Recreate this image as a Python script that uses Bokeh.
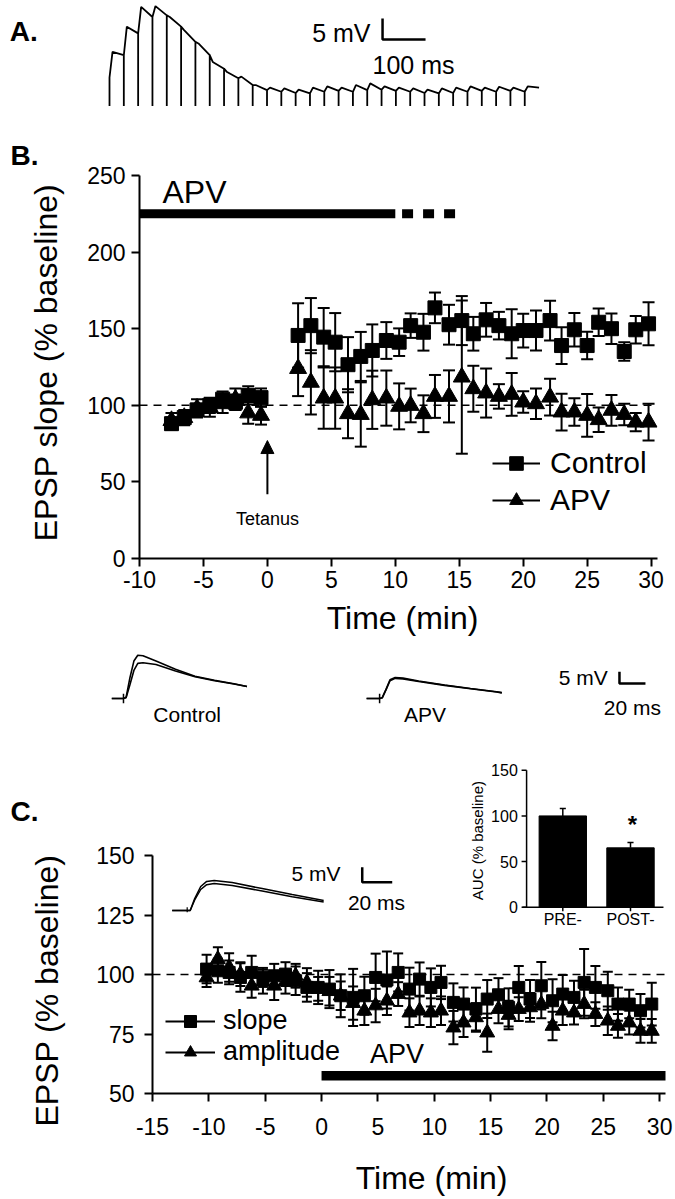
import math
from bokeh.plotting import figure
from bokeh.models import (ColumnDataSource, Whisker, TeeHead, Legend, LegendItem,
                          Range1d, Span, FixedTicker, Arrow, NormalHead)
from bokeh.layouts import column, row
from bokeh.embed import file_html
from bokeh.resources import INLINE
from bokeh.core.properties import value

FONT = "Liberation Sans"
PAGE_W = 675
NAN = float("nan")

# ---------------- Panel A: tetanus response ----------------
a_peak_mV = [6.1, 12.1, 16.8, 17.0, 14.4, 11.3, 8.1, 3.7, 1.3, 0.2,
             -1.8, -2.4, -2.6, -2.9, -2.4, -2.1, -2.4, -1.8, -1.4, -2.1,
             -2.4, -2.6, -2.9, -2.6, -2.4, -2.1, -2.4, -2.2, -2.4, -2.1]
a_trough_mV = [5.3, 10.5, 14.4, 14.8, 12.1, 8.5, 5.3, 2.1, -0.2, -1.8,
               -3.0, -3.4, -3.7, -3.8, -3.4, -3.2, -3.4, -3.0, -2.9, -3.2,
               -3.4, -3.7, -3.8, -3.7, -3.4, -3.2, -3.4, -3.2, -3.4, -2.4]
a_isi_ms = 33.3
a_rise_ms = 7
a_artifact_mV = -6.8

# ---------------- Panel B: EPSP slope ----------------
b_time = [-7.5, -6.5, -5.5, -4.5, -3.5, -2.5, -1.5, -0.5,
          2.4, 3.4, 4.4, 5.3, 6.3, 7.3, 8.2, 9.3, 10.3, 11.2,
          12.2, 13.1, 14.2, 15.2, 16.1, 17.1, 18.1, 19.1, 20.0, 21.0,
          22.1, 23.0, 24.0, 25.0, 25.9, 26.9, 27.9, 28.8, 29.8]
b_control = [88, 92, 97, 100, 104, 102, 106.5, 105,
             145.6, 152, 144.5, 141.2, 126.5, 131.9, 135.8, 142.3, 141.2, 152,
             147.7, 163.6, 152.6, 155.3, 146.7, 155.8, 152, 146.7, 148.8, 148.8,
             155.3, 139, 149.3, 139, 154.2, 150, 135.1, 149.3, 153.2]
b_control_sem = [4, 4, 4, 5, 5, 5, 6, 6,
                 21, 18, 19, 19, 18, 16, 17, 12, 9, 8,
                 12, 10, 13, 16, 11, 11, 9, 16, 11, 13,
                 13, 12, 11, 9, 9, 10, 6, 9, 14]
b_apv = [90, 92, 98, 98.6, 101, 104, 95, 93.4,
         124, 115, 104.7, 104.7, 94.5, 94, 103.6, 104.7, 99.3, 99.9,
         94.5, 105.8, 105.8, 118.4, 110.8, 108, 105.8, 107.1, 102.1, 101,
         105.3, 95.6, 95.6, 93.4, 90.6, 96.7, 94, 89, 89]
b_apv_sem = [5, 5, 6, 6, 6, 7, 7, 6,
             18, 21, 20, 20, 16, 21, 19, 18, 15, 11,
             12, 14, 17, 50, 15, 16, 8, 14, 7, 10,
             12, 12, 9, 14, 8, 10, 7, 6, 12]
b_xticks = [-10, -5, 0, 5, 10, 15, 20, 25, 30]
b_yticks = [0, 50, 100, 150, 200, 250]
b_apv_bar = [-10, 10]
b_apv_washout = [10.53, 14.7]
b_apv_bar_level = 225
b_tetanus_time = 0
b_baseline = 100

# ---------------- Sample EPSP traces under B ----------------
tr_ctl_t = [-9, 0, 2, 5, 8, 11, 15, 25, 40, 55, 70, 85, 95]
tr_ctl_pre = [0, 0, 0.3, 6, 12, 15, 15.3, 14.5, 11.8, 9.3, 7.6, 6.2, 5.1]
tr_ctl_post = [0, 0, 0.5, 9, 16, 18.5, 18.3, 16, 12.5, 9.5, 7.8, 6.3, 5.1]
tr_apv_t = [-10, 0, 2, 5, 8, 12, 18, 30, 50, 70, 90, 94]
tr_apv_pre = [0, 0, 0.3, 4, 8, 9, 8.7, 7.5, 5.8, 4.3, 2.9, 2.5]
tr_apv_post = [0, 0, 0.3, 3.8, 7.6, 8.6, 8.4, 7.3, 5.6, 4.2, 2.8, 2.4]
tr_labels = ["Control", "APV"]

# ---------------- Panel C ----------------
c_time = [-10.2, -9.2, -8.2, -7.2, -6.2, -5.2, -4.2, -3.2, -2.3, -1.3,
          -0.3, 0.7, 1.7, 2.8, 3.8, 4.8, 5.8, 6.8, 7.8, 8.7,
          9.7, 10.6, 11.7, 12.6, 13.7, 14.7, 15.7, 16.6, 17.5, 18.5,
          19.5, 20.5, 21.4, 22.4, 23.3, 24.3, 25.4, 26.3, 27.3, 28.3,
          29.3]
c_slope = [102.3, 101.6, 100.9, 98.8, 100.9, 98.8, 99.5, 100.2, 97.4, 94.6,
           94.6, 93.9, 91.1, 90.4, 91.1, 98.8, 97.7, 100.9, 93.9, 98.1,
           94.6, 96.7, 88.3, 87.6, 85.5, 89.7, 91.5, 86.2, 94.6, 89.7,
           95.3, 89.0, 91.8, 90.4, 96.7, 94.6, 93.2, 87.6, 87.6, 84.8,
           87.6]
c_slope_sem = [6, 5, 5, 6, 7, 4, 5, 5, 6, 6,
               7, 8, 9, 12, 8, 10, 12, 8, 9, 7,
               8, 7, 8, 7, 9, 8, 7, 8, 9, 8,
               10, 9, 8, 7, 14, 9, 8, 7, 6, 7,
               9]
c_amp = [98.8, 106.5, 103.0, 100.2, 95.3, 97.0, 95.3, 97.0, 99.5, 96.7,
         94.0, 93.0, 91.1, 88.0, 84.8, 87.0, 89.0, 91.8, 84.0, 84.8,
         84.0, 84.8, 77.7, 79.8, 82.0, 75.6, 85.5, 83.0, 85.5, 86.2,
         87.6, 78.4, 84.8, 84.0, 87.6, 83.4, 80.6, 78.4, 79.8, 76.3,
         76.3]
c_amp_sem = [4, 5, 6, 5, 5, 5, 6, 5, 5, 6,
             5, 6, 6, 7, 6, 7, 6, 5, 6, 6,
             6, 6, 7, 6, 6, 8, 6, 6, 5, 6,
             6, 6, 6, 5, 6, 5, 6, 5, 5, 5,
             5]
c_xticks = [-15, -10, -5, 0, 5, 10, 15, 20, 25, 30]
c_yticks = [50, 75, 100, 125, 150]
c_apv_bar = [0, 31]
c_apv_bar_level = 57.5
c_baseline = 100

# inset trace in C
c_tr_t = [-10, 0, 2, 5, 9, 13, 18, 30, 50, 70, 91]
c_tr_pre = [0, 0, 0, 4, 8, 9.7, 10, 9.3, 7.3, 5.3, 3.3]
c_tr_post = [0, 0, 0, 3.5, 7, 8.6, 9, 8.3, 6.5, 4.6, 2.8]

# inset bar chart (AUC)
inset_categories = ["PRE-", "POST-"]
inset_values = [100, 65]
inset_sem = [8, 6]
inset_yticks = [0, 50, 100, 150]


def text_kw(size, bold=False):
    return dict(text_font=value(FONT), text_font_size=value(size), text_color="black",
                text_font_style="bold" if bold else "normal")


def fig(w, h, xr, yr, axes=False, **kw):
    extra = {} if axes else dict(x_axis_type=None, y_axis_type=None, min_border=0)
    p = figure(width=w, height=h, x_range=xr, y_range=yr, output_backend="svg",
               toolbar_location=None, **extra, **kw)
    p.frame_align = False
    p.outline_line_color = None
    p.background_fill_color = "white"
    p.border_fill_color = "white"
    return p


def strip(w, h, left, top):
    # a figure whose data coordinates are page pixels (y downward)
    return fig(w, h, Range1d(left, left + w), Range1d(top + h, top))


def style_axes(p, size, xticks, yticks):
    for ax in p.axis:
        ax.axis_line_width = 2
        ax.axis_line_color = "black"
        ax.major_tick_line_width = 2
        ax.major_tick_line_color = "black"
        ax.major_tick_out = 8
        ax.major_tick_in = 0
        ax.minor_tick_line_color = None
        ax.major_label_text_font = FONT
        ax.major_label_text_font_size = size
        ax.major_label_text_color = "black"
    p.xaxis.ticker = FixedTicker(ticks=xticks)
    p.yaxis.ticker = FixedTicker(ticks=yticks)
    p.xaxis.major_label_overrides = {t: str(t) for t in xticks}
    p.yaxis.major_label_overrides = {t: str(t) for t in yticks}
    p.grid.visible = False


# ================= Figure A (page y 0-125) =================
pA = fig(PAGE_W, 125, Range1d(-253.5, 1316.3), Range1d(-11.43, 18.33))
a_t, a_v = [], []
level = 0.0
for i, (pk, tr) in enumerate(zip(a_peak_mV, a_trough_mV)):
    t0 = i * a_isi_ms
    a_t += [t0, t0, t0, t0 + a_rise_ms, t0 + a_isi_ms]
    a_v += [level, a_artifact_mV, level, pk, tr]
    level = tr
pA.line(a_t, a_v, line_color="black", line_width=1.8)
sbx, sby = 635, 9.05
pA.line([sbx, sbx, sbx + 100], [sby + 5, sby, sby], line_color="black", line_width=2.5)
pA.text(x=[sbx - 28], y=[sby + 1.5], text=["5 mV"], text_align="right", text_baseline="middle",
        **text_kw("25px"))
pA.text(x=[sbx + 72], y=[2.9], text=["100 ms"], text_align="center", text_baseline="middle",
        **text_kw("25px"))
pA.text(x=[-232], y=[11], text=["A."], text_align="left", text_baseline="middle",
        **text_kw("28px", bold=True))

# ================= Figure B (page y 125-600) =================
sB = strip(68, 475, 0, 125)
sB.text(x=[10], y=[155], text=["B."], text_align="left", text_baseline="middle",
        **text_kw("28px", bold=True))
sB.text(x=[45], y=[362], text=["EPSP slope (% baseline)"], angle=math.pi / 2, text_align="center",
        text_baseline="middle", **text_kw("32px"))

pB = fig(PAGE_W - 68, 475, Range1d(-10, 30.5), Range1d(0, 250), axes=True,
         min_border_left=71, min_border_right=18, min_border_top=50, min_border_bottom=42)
style_axes(pB, "23px", b_xticks, b_yticks)
pB.xaxis.major_label_standoff = 4
pB.yaxis.major_label_standoff = 6

pB.add_layout(Span(location=b_baseline, dimension="width", line_color="black", line_width=1.5,
                   line_dash="8 6", level="underlay"))
srcBc = ColumnDataSource(dict(t=b_time, v=b_control,
                              up=[v + s for v, s in zip(b_control, b_control_sem)],
                              lo=[v - s for v, s in zip(b_control, b_control_sem)]))
srcBa = ColumnDataSource(dict(t=b_time, v=b_apv,
                              up=[v + s for v, s in zip(b_apv, b_apv_sem)],
                              lo=[v - s for v, s in zip(b_apv, b_apv_sem)]))
for src in (srcBc, srcBa):
    pB.add_layout(Whisker(base="t", upper="up", lower="lo", source=src, line_color="black", line_width=2,
                          upper_head=TeeHead(size=12, line_width=2, line_color="black"),
                          lower_head=TeeHead(size=12, line_width=2, line_color="black")))
dumB1 = pB.line([NAN, NAN], [NAN, NAN], line_color="black", line_width=2)
rBc = pB.scatter("t", "v", source=srcBc, marker="square", size=14, fill_color="black", line_color="black")
dumB2 = pB.line([NAN, NAN], [NAN, NAN], line_color="black", line_width=2)
rBa = pB.scatter("t", "v", source=srcBa, marker="triangle", size=17, fill_color="black", line_color="black")

pB.line(b_apv_bar, [b_apv_bar_level] * 2, line_color="black", line_width=9, line_cap="butt")
pB.line(b_apv_washout, [b_apv_bar_level] * 2, line_color="black", line_width=9, line_cap="butt",
        line_dash="11 10")
pB.text(x=[-8.2], y=[239], text=["APV"], text_align="left", text_baseline="middle", **text_kw("32px"))
pB.add_layout(Arrow(end=NormalHead(size=13, fill_color="black", line_color="black"),
                    x_start=b_tetanus_time, y_start=42, x_end=b_tetanus_time, y_end=77,
                    line_width=2, line_color="black"))
pB.text(x=[b_tetanus_time], y=[26], text=["Tetanus"], text_align="center", text_baseline="middle",
        **text_kw("18px"))

legB = Legend(items=[LegendItem(label="Control", renderers=[dumB1, rBc]),
                     LegendItem(label="APV", renderers=[dumB2, rBa])],
              location=(353, 41), glyph_width=48, glyph_height=34, label_height=34,
              label_standoff=10, spacing=3, padding=0, margin=0, border_line_color=None,
              background_fill_alpha=0, label_text_font=FONT, label_text_font_size="30px",
              label_text_color="black")
pB.add_layout(legB)

pBx = strip(PAGE_W, 40, 0, 600)
pBx.text(x=[402], y=[617], text=["Time (min)"], text_align="center", text_baseline="middle",
         **text_kw("32px"))

# ================= Traces under B (page y 640-760) =================
pT = fig(PAGE_W, 120, Range1d(-94.6, 424.6), Range1d(-26.5, 24.79))
apv_off = 197
pT.line(tr_ctl_t, tr_ctl_pre, line_color="black", line_width=1.6)
pT.line(tr_ctl_t, tr_ctl_post, line_color="black", line_width=1.6)
pT.line([t + apv_off for t in tr_apv_t], tr_apv_pre, line_color="black", line_width=1.6)
pT.line([t + apv_off for t in tr_apv_t], tr_apv_post, line_color="black", line_width=1.6)
pT.segment(x0=[0, apv_off], y0=[-2, -2], x1=[0, apv_off], y1=[2, 2], line_color="black", line_width=1.5)
pT.text(x=[49, 232], y=[-7, -7], text=tr_labels, text_align="center", text_baseline="middle",
        **text_kw("21px"))
tsx, tsy = 381.5, 6.4
pT.line([tsx, tsx, tsx + 20], [tsy + 5, tsy, tsy], line_color="black", line_width=2.5)
pT.text(x=[tsx - 9], y=[tsy + 2.6], text=["5 mV"], text_align="right", text_baseline="middle",
        **text_kw("21px"))
pT.text(x=[tsx + 10], y=[-3.8], text=["20 ms"], text_align="center", text_baseline="middle",
        **text_kw("21px"))

# ================= Figure C (page y 760-1141) =================
sC = strip(68, 381, 0, 760)
sC.text(x=[10], y=[811], text=["C."], text_align="left", text_baseline="middle",
        **text_kw("28px", bold=True))
sC.text(x=[46], y=[990], text=["EPSP (% baseline)"], angle=math.pi / 2, text_align="center",
        text_baseline="middle", **text_kw("32px"))

pC = fig(PAGE_W - 68, 381, Range1d(-15, 30.52), Range1d(50, 190), axes=True,
         min_border_left=84, min_border_right=10, min_border_top=0, min_border_bottom=48)
style_axes(pC, "23px", c_xticks, c_yticks)
pC.yaxis.bounds = (50, 150)
pC.xaxis.major_label_standoff = 16
pC.yaxis.major_label_standoff = 10
pC.extra_x_ranges = {"inset": Range1d(-5.061, 2.517), "trace": Range1d(-23.13, 318.9)}
pC.extra_y_ranges = {"inset": Range1d(-204.1, 160.7), "trace": Range1d(-61, 50)}

pC.add_layout(Span(location=c_baseline, dimension="width", line_color="black", line_width=1.5,
                   line_dash="8 6", level="underlay"))
srcCs = ColumnDataSource(dict(t=c_time, v=c_slope,
                              up=[v + s for v, s in zip(c_slope, c_slope_sem)],
                              lo=[v - s for v, s in zip(c_slope, c_slope_sem)]))
srcCa = ColumnDataSource(dict(t=c_time, v=c_amp,
                              up=[v + s for v, s in zip(c_amp, c_amp_sem)],
                              lo=[v - s for v, s in zip(c_amp, c_amp_sem)]))
for src in (srcCs, srcCa):
    pC.add_layout(Whisker(base="t", upper="up", lower="lo", source=src, line_color="black", line_width=2,
                          upper_head=TeeHead(size=10, line_width=2, line_color="black"),
                          lower_head=TeeHead(size=10, line_width=2, line_color="black")))
dumC1 = pC.line([NAN, NAN], [NAN, NAN], line_color="black", line_width=2)
rCs = pC.scatter("t", "v", source=srcCs, marker="square", size=12, fill_color="black", line_color="black")
dumC2 = pC.line([NAN, NAN], [NAN, NAN], line_color="black", line_width=2)
rCa = pC.scatter("t", "v", source=srcCa, marker="triangle", size=15, fill_color="black", line_color="black")

pC.line(c_apv_bar, [c_apv_bar_level] * 2, line_color="black", line_width=9.5, line_cap="butt")
pC.text(x=[4.3], y=[66.7], text=["APV"], text_align="left", text_baseline="middle", **text_kw("27px"))

legC = Legend(items=[LegendItem(label="slope", renderers=[dumC1, rCs]),
                     LegendItem(label="amplitude", renderers=[dumC2, rCa])],
              location=(13, 26), glyph_width=50, glyph_height=30, label_height=30,
              label_standoff=8, spacing=0, padding=0, margin=0, border_line_color=None,
              background_fill_alpha=0, label_text_font=FONT, label_text_font_size="27px",
              label_text_color="black")
pC.add_layout(legC)

# inset trace
ik = dict(x_range_name="trace", y_range_name="trace")
pC.line(c_tr_t, c_tr_pre, line_color="black", line_width=1.5, **ik)
pC.line(c_tr_t, c_tr_post, line_color="black", line_width=1.5, **ik)
pC.segment(x0=[0], y0=[-0.6], x1=[0], y1=[1.1], line_color="black", line_width=1.2, **ik)
csx, csy = 116.7, 9.43
pC.line([csx, csx, csx + 20], [csy + 5, csy, csy], line_color="black", line_width=2.5, **ik)
pC.text(x=[csx - 14.5], y=[12.3], text=["5 mV"], text_align="right", text_baseline="middle",
        **text_kw("21px"), **ik)
pC.text(x=[csx + 9.5], y=[2.8], text=["20 ms"], text_align="center", text_baseline="middle",
        **text_kw("21px"), **ik)

# inset bar chart
nk = dict(x_range_name="inset", y_range_name="inset")
ix = [1, 2]
tops = [v + s for v, s in zip(inset_values, inset_sem)]
pC.vbar(x=ix, top=inset_values, bottom=0, width=0.7, fill_color="black", line_color="black", **nk)
pC.segment(x0=ix, y0=inset_values, x1=ix, y1=tops, line_color="black", line_width=1.5, **nk)
pC.segment(x0=[x - 0.045 for x in ix], y0=tops, x1=[x + 0.045 for x in ix], y1=tops,
           line_color="black", line_width=1.5, **nk)
ax0 = 0.465
pC.segment(x0=[ax0], y0=[0], x1=[ax0], y1=[inset_yticks[-1]], line_color="black", line_width=1.5, **nk)
pC.segment(x0=[0.405], y0=[0], x1=[2.487], y1=[0], line_color="black", line_width=1.5, **nk)
pC.segment(x0=[ax0 - 0.074] * len(inset_yticks), y0=inset_yticks, x1=[ax0] * len(inset_yticks),
           y1=inset_yticks, line_color="black", line_width=1.5, **nk)
pC.segment(x0=ix, y0=[0, 0], x1=ix, y1=[-4.4, -4.4], line_color="black", line_width=1.5, **nk)
pC.text(x=[0.335] * len(inset_yticks), y=inset_yticks, text=[str(v) for v in inset_yticks],
        text_align="right", text_baseline="middle", **text_kw("16px"), **nk)
pC.text(x=ix, y=[-13.4, -13.4], text=inset_categories, text_align="center", text_baseline="middle",
        **text_kw("16px"), **nk)
pC.text(x=[-0.253], y=[73], text=["AUC (% baseline)"], angle=math.pi / 2, text_align="center",
        text_baseline="middle", **text_kw("15px"), **nk)
pC.text(x=[2.03], y=[tops[1] + 20], text=["*"], text_align="center",
        text_baseline="middle", **text_kw("24px", bold=True), **nk)

pCx = strip(PAGE_W, 58, 0, 1141)
pCx.text(x=[431], y=[1177], text=["Time (min)"], text_align="center", text_baseline="middle",
         **text_kw("32px"))

layout = column(pA, row(sB, pB, spacing=0), pBx, pT, row(sC, pC, spacing=0), pCx, spacing=0)
open("out.html", "w").write(file_html(layout, INLINE))
